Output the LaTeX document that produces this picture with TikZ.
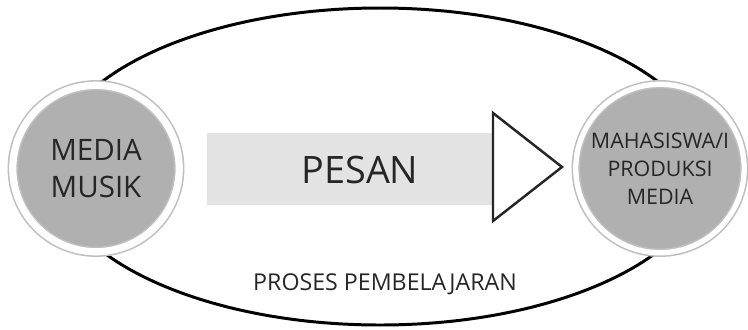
\documentclass[tikz,border=0pt]{standalone}
\usepackage{fontspec}
\setmainfont{Open Sans}
\usetikzlibrary{positioning}

\begin{document}
\begin{tikzpicture}[x=0.02cm,y=-0.02cm,
    ring/.style={circle,draw=gray!50,double=white,fill=gray!62,line width=0.9pt,
        inner sep=0pt,align=center,text=black!85},
    msg/.style={fill=gray!22,minimum width=5.72cm,minimum height=1.44cm,inner sep=0pt,
        text=black!85,font=\fontsize{21.5}{24}\selectfont}]

   \useasboundingbox (0,0) rectangle (748,329);

   % proses pembelajaran
   \draw[line width=1.7pt] (380,166.5) ellipse [x radius=329, y radius=158.5];

   \node[msg] (pesan) at (350,169) {};
   \node[text=black!85,font=\fontsize{21.5}{24}\selectfont] (pesantxt) at (360,170) {PESAN};
   \draw[draw=black!85,fill=white,line width=1.4pt,line join=miter]
      (493,113) -- (562,167) -- (493,221) -- cycle;

   \node[ring,double distance=4.1pt,minimum size=3.33cm,
         font=\fontsize{16.8}{21.5}\selectfont] (media) at (96,168.5) {MEDIA\\MUSIK};
   \node[ring,double distance=3pt,minimum size=3.37cm,
         font=\fontsize{12.2}{15.9}\selectfont] (mhs) at (660,168.5) {MAHASISWA/I\\PRODUKSI\\MEDIA};

   \node[text=black!85,font=\fontsize{13.2}{15}\selectfont] (proses) at (385,284) {PROSES PEMBELAJARAN};
\end{tikzpicture}
\end{document}
